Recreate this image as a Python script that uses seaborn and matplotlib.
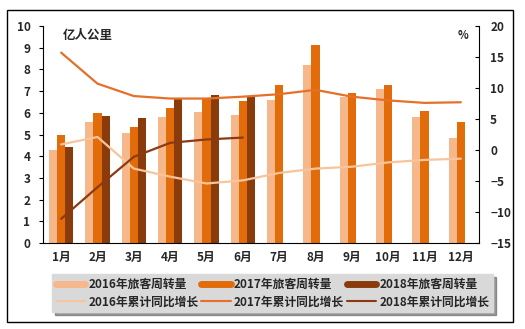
import numpy as np
import pandas as pd
import matplotlib
matplotlib.use("Agg")
import matplotlib.pyplot as plt
import seaborn as sns
from matplotlib.lines import Line2D
from matplotlib.patches import Rectangle

months = ["1月", "2月", "3月", "4月", "5月", "6月", "7月", "8月", "9月", "10月", "11月", "12月"]
vol_2016 = [4.28, 5.57, 5.05, 5.82, 6.05, 5.89, 6.58, 8.20, 6.74, 7.09, 5.82, 4.85]
vol_2017 = [4.97, 6.00, 5.35, 6.22, 6.62, 6.54, 7.28, 9.12, 6.89, 7.28, 6.09, 5.57]
vol_2018 = [4.43, 5.85, 5.75, 6.69, 6.82, 6.74, np.nan, np.nan, np.nan, np.nan, np.nan, np.nan]
grow_2016 = [0.9, 2.1, -3.0, -4.3, -5.4, -4.9, -3.7, -3.0, -2.7, -2.0, -1.6, -1.4]
grow_2017 = [15.7, 10.7, 8.7, 8.3, 8.3, 8.6, 9.0, 9.7, 8.6, 8.0, 7.6, 7.7]
grow_2018 = [-11.1, -6.0, -1.1, 1.15, 1.7, 2.0]

bar_labels = ["2016年旅客周转量", "2017年旅客周转量", "2018年旅客周转量"]
line_labels = ["2016年累计同比增长", "2017年累计同比增长", "2018年累计同比增长"]

c16, c17, c18 = "#F6B88A", "#E26B0A", "#8A3B0C"
l16, l17, l18 = "#F8C49C", "#E4702A", "#8B3A12"

sns.set_theme(style="white")
plt.rcParams['font.family'] = ['Noto Sans CJK SC', 'DejaVu Sans']
plt.rcParams['font.weight'] = 'bold'

df = pd.DataFrame({
    "month": months * 3,
    "value": vol_2016 + vol_2017 + vol_2018,
    "series": [bar_labels[0]] * 12 + [bar_labels[1]] * 12 + [bar_labels[2]] * 12,
})

fig = plt.figure(figsize=(5.25, 3.29), dpi=100)
fig.patch.set_facecolor("white")
# outer frame
fig.patches.append(Rectangle((7 / 525, 1 - 322 / 329), (513 - 7) / 525, (322 - 10) / 329,
                             transform=fig.transFigure, fill=False, edgecolor="black", lw=1.0))

ax = fig.add_axes([43 / 525, 1 - 243 / 329, (479 - 43) / 525, (243 - 26) / 329])
sns.barplot(data=df, x="month", y="value", hue="series", order=months,
            palette=[c16, c17, c18], width=0.67, saturation=1, ax=ax, legend=False,
            linewidth=0)
ax.set_ylim(0, 10)
ax.set_xlim(-0.5, 11.5)
ax.set_yticks(range(0, 11))
ax.set_xlabel("")
ax.set_ylabel("")
for s in ["top", "right"]:
    ax.spines[s].set_visible(False)
for s in ["left", "bottom"]:
    ax.spines[s].set_color("black")
    ax.spines[s].set_linewidth(0.8)
ax.tick_params(axis="y", direction="out", length=3, width=0.8, color="black", labelsize=8.5, pad=6)
ax.tick_params(axis="x", length=0, labelsize=8.5, pad=6)
ax.set_xticks(np.arange(-0.5, 12.0, 1.0), minor=True)
ax.tick_params(axis="x", which="minor", direction="in", length=4, width=0.8, color="black")
for t in ax.get_yticklabels() + ax.get_xticklabels():
    t.set_fontweight("bold")

ax2 = ax.twinx()
x = np.arange(12)
sns.lineplot(x=x, y=grow_2016, color=l16, lw=1.6, ax=ax2)
sns.lineplot(x=x, y=grow_2017, color=l17, lw=1.6, ax=ax2)
sns.lineplot(x=x[:6], y=grow_2018, color=l18, lw=1.6, ax=ax2)
ax2.set_ylim(-15, 20)
ax2.set_yticks(range(-15, 21, 5))
ax2.set_xlim(-0.5, 11.5)
for s in ["top", "left", "bottom"]:
    ax2.spines[s].set_visible(False)
ax2.spines["right"].set_color("black")
ax2.spines["right"].set_linewidth(0.8)
ax2.tick_params(axis="y", direction="in", length=3, width=0.8, color="black", labelsize=8.5, pad=8)
for t in ax2.get_yticklabels():
    t.set_fontweight("bold")

ax.text(0.045, 0.985, "亿人公里", transform=ax.transAxes, fontsize=9, fontweight="bold",
        va="top", ha="left")
ax2.text(0.975, 0.985, "%", transform=ax2.transAxes, fontsize=8, fontweight="bold",
         va="top", ha="right")

handles = [
    Line2D([], [], color=c16, lw=5), Line2D([], [], color=l16, lw=1.5),
    Line2D([], [], color=c17, lw=5), Line2D([], [], color=l17, lw=1.5),
    Line2D([], [], color=c18, lw=5), Line2D([], [], color=l18, lw=1.5),
]
labels = [bar_labels[0], line_labels[0], bar_labels[1], line_labels[1], bar_labels[2], line_labels[2]]
leg = fig.legend(handles, labels, ncol=3, loc="center",
                 bbox_to_anchor=((54 + 491) / 2 / 525, 1 - 293 / 329),
                 frameon=True, fancybox=False, shadow=True, facecolor="#D9D9D9",
                 edgecolor="#D9D9D9", framealpha=1, fontsize=8.5,
                 handlelength=2.5, handletextpad=0.25, columnspacing=0.25,
                 labelspacing=0.4, borderpad=0.3, borderaxespad=0)
for t in leg.get_texts():
    t.set_fontweight("bold")

fig.savefig("out.png", dpi=100, facecolor="white")
